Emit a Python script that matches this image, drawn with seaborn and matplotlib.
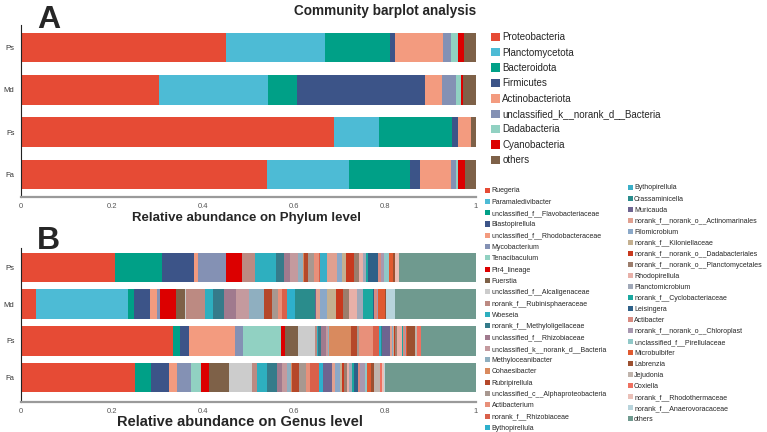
import numpy as np
import pandas as pd
import matplotlib
matplotlib.use("Agg")
import matplotlib.pyplot as plt
from matplotlib.patches import Patch
import seaborn as sns

samples = ["Ps", "Md", "Fs", "Fa"]

phyla = ["Proteobacteria", "Planctomycetota", "Bacteroidota", "Firmicutes",
         "Actinobacteriota", "unclassified_k__norank_d__Bacteria",
         "Dadabacteria", "Cyanobacteria", "others"]
phylum_colors = ["#E64B35", "#4DBBD5", "#00A087", "#3C5488", "#F39B7F",
                 "#8491B4", "#91D1C2", "#DC0000", "#7E6148"]
phylum_Ps = [0.452, 0.216, 0.143, 0.012, 0.105, 0.018, 0.015, 0.013, 0.026]
phylum_Md = [0.303, 0.240, 0.063, 0.283, 0.037, 0.030, 0.012, 0.003, 0.029]
phylum_Fs = [0.689, 0.099, 0.160, 0.012, 0.028, 0.002, 0.000, 0.000, 0.010]
phylum_Fa = [0.542, 0.179, 0.133, 0.024, 0.068, 0.010, 0.005, 0.015, 0.024]

genera = ["Ruegeria", "Paramaledivibacter", "unclassified_f__Flavobacteriaceae",
          "Blastopirellula", "unclassified_f__Rhodobacteraceae", "Mycobacterium",
          "Tenacibaculum", "Pir4_lineage", "Fuerstia", "unclassified_f__Alcaligenaceae",
          "norank_f__Rubinisphaeraceae", "Woeseia", "norank_f__Methyloligellaceae",
          "unclassified_f__Rhizobiaceae", "unclassified_k__norank_d__Bacteria",
          "Methyloceanibacter", "Cohaesibacter", "Rubripirellula",
          "unclassified_c__Alphaproteobacteria", "Actibacterium",
          "norank_f__Rhizobiaceae", "Bythopirellula",
          "Bythopirellula", "Crassaminicella", "Muricauda",
          "norank_f__norank_o__Actinomarinales", "Filomicrobium",
          "norank_f__Kiloniellaceae", "norank_f__norank_o__Dadabacteriales",
          "norank_f__norank_o__Planctomycetales", "Rhodopirellula",
          "Planctomicrobium", "norank_f__Cyclobacteriaceae", "Leisingera",
          "Actibacter", "norank_f__norank_o__Chloroplast",
          "unclassified_f__Pirellulaceae", "Microbulbifer", "Labrenzia",
          "Jejudonia", "Coxiella", "norank_f__Rhodothermaceae",
          "norank_f__Anaerovoracaceae", "others"]
genus_colors = ["#E64B35", "#4DBBD5", "#00A087", "#3C5488", "#F39B7F", "#8491B4",
                "#91D1C2", "#DC0000", "#7E6148", "#CCCCCC", "#BC8A82", "#2EAFBF",
                "#357B8A", "#A07A8E", "#C49A9E", "#8FAFC0", "#D98A5E", "#B5482A",
                "#A89890", "#E8907A", "#D9604A", "#2EB0CC",
                "#3AAFC8", "#2A8C8C", "#6E6490", "#E0A090", "#8AA8C8", "#C4B090",
                "#C8391E", "#9C7D6C", "#E8B0A8", "#A0A8B8", "#1AA8A0", "#2E6088",
                "#D88A80", "#A898B0", "#90C8C8", "#E05A30", "#9C5030", "#C0B4AC",
                "#EE7060", "#EAC0B8", "#B8D4DC", "#6F9A8F"]
genus_Ps = [0.207, 0.000, 0.103, 0.070, 0.009, 0.062, 0.000, 0.034, 0.002, 0.000,
            0.028, 0.045, 0.018, 0.013, 0.018, 0.012, 0.002, 0.007, 0.015, 0.010,
            0.002, 0.000, 0.015, 0.000, 0.000, 0.023, 0.011, 0.009, 0.016, 0.011,
            0.009, 0.007, 0.005, 0.022, 0.006, 0.007, 0.012, 0.008, 0.004, 0.000,
            0.000, 0.009, 0.000, 0.169]
genus_Md = [0.034, 0.201, 0.014, 0.034, 0.016, 0.007, 0.000, 0.036, 0.019, 0.003,
            0.040, 0.018, 0.024, 0.027, 0.029, 0.033, 0.000, 0.018, 0.013, 0.009,
            0.009, 0.018, 0.000, 0.044, 0.002, 0.009, 0.016, 0.020, 0.014, 0.015,
            0.016, 0.013, 0.022, 0.002, 0.007, 0.003, 0.000, 0.015, 0.003, 0.000,
            0.000, 0.000, 0.019, 0.178]
genus_Fs = [0.335, 0.000, 0.014, 0.020, 0.102, 0.018, 0.083, 0.008, 0.028, 0.038,
            0.004, 0.002, 0.008, 0.011, 0.004, 0.003, 0.048, 0.012, 0.004, 0.031,
            0.015, 0.004, 0.000, 0.002, 0.018, 0.004, 0.002, 0.002, 0.003, 0.003,
            0.012, 0.000, 0.002, 0.000, 0.003, 0.003, 0.000, 0.003, 0.018, 0.003,
            0.010, 0.000, 0.000, 0.120]
genus_Fa = [0.252, 0.000, 0.035, 0.038, 0.019, 0.031, 0.022, 0.017, 0.044, 0.049,
            0.013, 0.021, 0.023, 0.011, 0.009, 0.009, 0.003, 0.015, 0.015, 0.009,
            0.020, 0.008, 0.000, 0.002, 0.018, 0.007, 0.011, 0.004, 0.006, 0.005,
            0.005, 0.006, 0.004, 0.009, 0.006, 0.010, 0.004, 0.010, 0.005, 0.014,
            0.005, 0.005, 0.001, 0.200]

sns.set_style("white")
plt.rcParams["font.family"] = ["Liberation Sans", "DejaVu Sans"]

W, H = 767, 432
fig = plt.figure(figsize=(W / 100, H / 100), dpi=100)


def px_axes(left, top, right, bottom):
    return fig.add_axes([left / W, 1 - bottom / H, (right - left) / W, (bottom - top) / H])


def stacked(ax, names, colors, series, bar_h):
    df = pd.DataFrame(series, index=names).T  # rows samples, cols taxa
    cum = df.cumsum(axis=1)
    for i in range(len(names) - 1, -1, -1):
        d = pd.DataFrame({"sample": samples, "value": cum.iloc[:, i].values})
        sns.barplot(data=d, x="value", y="sample", order=samples, orient="h",
                    color=colors[i], width=bar_h, edgecolor="none",
                    linewidth=0, saturation=1, ax=ax, errorbar=None)


def style_axes(ax, ylim, label, lsize, lx, ly):
    ax.set_xlim(0, 1)
    ax.set_ylim(*ylim)
    ax.set_xticks([0, 0.2, 0.4, 0.6, 0.8, 1.0])
    ax.set_xticklabels(["0", "0.2", "0.4", "0.6", "0.8", "1"])
    ax.set_ylabel("")
    ax.set_xlabel(label, fontsize=lsize, fontweight="bold")
    ax.xaxis.label.set_va("center")
    ax.xaxis.set_label_coords(lx, ly)
    for s in ["top", "right"]:
        ax.spines[s].set_visible(False)
    ax.spines["left"].set_color("#222222")
    ax.spines["left"].set_linewidth(0.8)
    ax.spines["bottom"].set_color("#9a9a9a")
    ax.spines["bottom"].set_linewidth(1.6)
    ax.tick_params(axis="both", direction="out", length=3, width=0.7,
                   colors="#333333", labelsize=5.5, pad=1.5)
    ax.tick_params(axis="x", colors="#555555")


# Top: phylum
ax1 = px_axes(20.7, 25, 476, 196.7)
stacked(ax1, phyla, phylum_colors,
        {"Ps": phylum_Ps, "Md": phylum_Md, "Fs": phylum_Fs, "Fa": phylum_Fa}, 0.70)
style_axes(ax1, (3.52, -0.53), "Relative abundance on Phylum level", 9.5,
           (247 - 20.7) / 455.3, -(218.5 - 196.7) / 171.7)

# Bottom: genus
ax2 = px_axes(20.7, 248, 476, 401.7)
stacked(ax2, genera, genus_colors,
        {"Ps": genus_Ps, "Md": genus_Md, "Fs": genus_Fs, "Fa": genus_Fa}, 0.81)
style_axes(ax2, (3.66, -0.53), "Relative abundance on Genus level", 10.5,
           (240 - 20.7) / 455.3, -(421.5 - 401.7) / 153.7)

# Title and panel letters
fig.text(385 / W, 1 - 10.5 / H, "Community barplot analysis", fontsize=9.8,
         fontweight="bold", ha="center", va="center")
fig.text(37 / W, 1 - 28.5 / H, "A", fontsize=23, fontweight="bold", ha="left", va="baseline")
fig.text(37 / W, 1 - 249 / H, "B", fontsize=23, fontweight="bold", ha="left", va="baseline")

# Phylum legend
ph = [Patch(facecolor=c, edgecolor="none") for c in phylum_colors]
fig.legend(ph, phyla, loc="upper left", bbox_to_anchor=(490.7 / W, 1 - 32.3 / H),
           frameon=False, fontsize=7, handlelength=0.95, handleheight=0.95,
           handletextpad=0.25, labelspacing=0.55, borderpad=0, borderaxespad=0)

# Genus legends (two columns)
gh = [Patch(facecolor=c, edgecolor="none") for c in genus_colors]
fig.legend(gh[:22], genera[:22], loc="upper left", bbox_to_anchor=(485 / W, 1 - 187.5 / H),
           frameon=False, fontsize=5, handlelength=0.75, handleheight=0.75,
           handletextpad=0.2, labelspacing=0.62, borderpad=0, borderaxespad=0)
fig.legend(gh[22:], genera[22:], loc="upper left", bbox_to_anchor=(627.5 / W, 1 - 184.5 / H),
           frameon=False, fontsize=5, handlelength=0.75, handleheight=0.75,
           handletextpad=0.2, labelspacing=0.58, borderpad=0, borderaxespad=0)

fig.savefig("out.png", dpi=100, facecolor="white")
